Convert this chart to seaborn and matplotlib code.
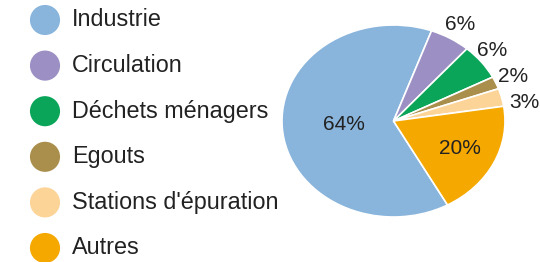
import numpy as np
import matplotlib
matplotlib.use("Agg")
import matplotlib.pyplot as plt
import seaborn as sns

categories = ["Industrie", "Circulation", "Déchets ménagers", "Egouts",
              "Stations d'épuration", "Autres"]
values = [63.6, 5.9, 6.0, 2.1, 3.0, 19.4]
pct_labels = ["64%", "6%", "6%", "2%", "3%", "20%"]
colors = ["#89b4dc", "#9b8fc3", "#0ba55a", "#a98f4b", "#fdd497", "#f5a800"]

sns.set_theme(style="white")
plt.rcParams["font.family"] = ["Liberation Sans", "DejaVu Sans"]

fig = plt.figure(figsize=(5.4, 2.62), dpi=100)
fig.patch.set_facecolor("white")

# pie (slightly stretched horizontally like the reference)
ax = fig.add_axes([282 / 540, 45 / 262, 223 / 540, 192 / 262])
wedges, _ = ax.pie(values, colors=colors, startangle=-61, counterclock=False,
                   radius=1, wedgeprops=dict(edgecolor="white", linewidth=1.2))
ax.set_aspect("auto")
ax.set_xlim(-1, 1)
ax.set_ylim(-1, 1)
ax.axis("off")

# label distance and small angle nudge (outside labels spread like the original)
dist = [0.45, 1.17, 1.15, 1.17, 1.19, 0.66]
nudge = [0, 0, 2, 0, -5, 0]
for w, lab, d, n in zip(wedges, pct_labels, dist, nudge):
    mid = np.deg2rad((w.theta1 + w.theta2) / 2 + n)
    ax.text(d * np.cos(mid), d * np.sin(mid), lab, ha="center", va="center",
            fontsize=15, color="#222222", clip_on=False)

# legend drawn as its own small axes
lax = fig.add_axes([0, 0, 1, 1], facecolor="none")
lax.set_xlim(0, 540)
lax.set_ylim(262, 0)
lax.axis("off")
ys = [20 + i * 45.6 for i in range(len(categories))]
sns.scatterplot(x=[45] * len(categories), y=ys, hue=categories, palette=colors,
                s=470, linewidth=0, legend=False, ax=lax)
for y, name in zip(ys, categories):
    lax.text(72, y, name, ha="left", va="center", fontsize=16.8, color="#222222")

fig.savefig("out.png", dpi=100)
